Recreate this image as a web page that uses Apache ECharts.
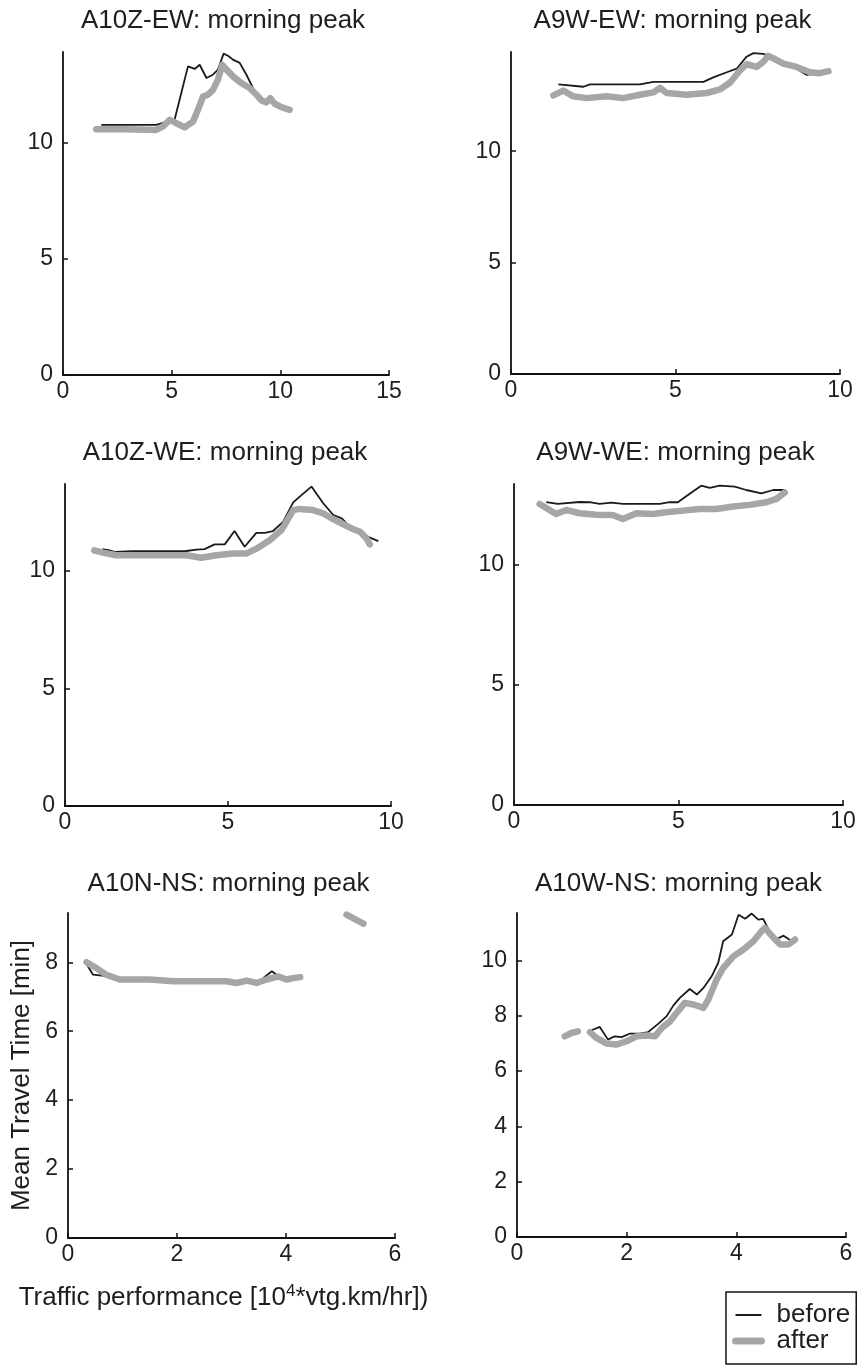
<!DOCTYPE html>
<html>
<head>
<meta charset="utf-8">
<script src="https://cdn.jsdelivr.net/npm/echarts@6/dist/echarts.min.js"></script>
<style>
html,body{margin:0;padding:0;background:#fff;}
#chart{width:858px;height:1365px;}
</style>
</head>
<body>
<div id="chart"></div>
<script>
// ---------------- DATA ----------------
const panelTitles = ['A10Z-EW: morning peak','A9W-EW: morning peak','A10Z-WE: morning peak','A9W-WE: morning peak','A10N-NS: morning peak','A10W-NS: morning peak'];
const seriesNames = ['before','after'];
const xMax = [15,10,10,10,6,6];
const xStep = [5,5,5,5,2,2];
const yMax = [13.92,14.45,13.7,13.38,9.43,11.72];
const yStep = [5,5,5,5,2,2];
const yTickValues = [[0,5,10],[0,5,10],[0,5,10],[0,5,10],[0,2,4,6,8],[0,2,4,6,8,10]];
const yAxisTitle = 'Mean Travel Time [min]';
const xAxisTitle = 'Traffic performance [10{sup|4}*vtg.km/hr])';

// A10Z-EW
const p1Before = [[1.76,10.78],[4.29,10.78],[5.14,11.02],[5.75,13.3],[6.06,13.19],[6.29,13.37],[6.6,12.8],[6.9,12.94],[7.13,13.16],[7.39,13.85],[7.59,13.76],[7.82,13.59],[8.13,13.45],[8.44,12.94],[8.74,12.37],[9.05,11.93],[9.2,11.8]];
const p1After = [[1.53,10.59],[2.91,10.59],[4.29,10.56],[4.6,10.71],[4.91,11.0],[5.21,10.85],[5.6,10.68],[5.98,10.92],[6.21,11.43],[6.44,12.0],[6.67,12.08],[6.9,12.29],[7.13,12.73],[7.33,13.37],[7.52,13.16],[7.82,12.87],[8.21,12.58],[8.59,12.37],[8.9,12.08],[9.13,11.83],[9.36,11.75],[9.54,11.93],[9.74,11.69],[10.05,11.54],[10.43,11.43]];
// A9W-EW
const p2Before = [[1.44,13.0],[2.2,12.89],[2.4,13.0],[3.92,13.0],[4.33,13.11],[5.85,13.11],[6.15,13.31],[6.56,13.54],[6.86,13.7],[7.16,14.24],[7.37,14.4],[7.67,14.37],[7.87,14.24],[8.38,13.93],[8.68,13.7],[8.99,13.42],[9.19,13.47],[9.6,13.54]];
const p2After = [[1.29,12.5],[1.59,12.72],[1.89,12.46],[2.3,12.38],[2.91,12.46],[3.41,12.38],[3.92,12.53],[4.33,12.64],[4.53,12.84],[4.73,12.61],[5.34,12.53],[5.95,12.61],[6.35,12.77],[6.66,13.08],[6.96,13.62],[7.16,13.9],[7.47,13.78],[7.67,14.01],[7.82,14.28],[7.97,14.17],[8.28,13.93],[8.68,13.78],[9.09,13.54],[9.39,13.5],[9.65,13.59]];
// A10Z-WE
const p3Before = [[1.15,10.93],[1.36,10.88],[1.52,10.81],[2.08,10.84],[2.9,10.84],[3.72,10.85],[4.03,10.91],[4.28,10.93],[4.59,11.13],[4.9,11.13],[5.2,11.7],[5.51,11.03],[5.87,11.62],[6.13,11.62],[6.38,11.7],[6.69,12.09],[7.0,12.92],[7.2,13.16],[7.56,13.59],[7.92,12.88],[8.23,12.38],[8.49,12.24],[8.74,11.88],[9.0,11.7],[9.3,11.45],[9.61,11.27]];
const p3After = [[0.9,10.88],[1.16,10.78],[1.57,10.67],[2.08,10.67],[2.9,10.67],[3.72,10.67],[4.18,10.56],[4.64,10.67],[5.15,10.74],[5.56,10.74],[5.87,10.95],[6.28,11.31],[6.64,11.74],[7.0,12.59],[7.2,12.64],[7.61,12.59],[7.92,12.45],[8.18,12.24],[8.49,12.02],[8.79,11.81],[9.05,11.67],[9.25,11.38],[9.35,11.13]];
// A9W-WE
const p4Before = [[0.98,12.62],[1.33,12.55],[1.99,12.63],[2.3,12.62],[2.6,12.55],[2.96,12.6],[3.31,12.55],[4.43,12.55],[4.73,12.62],[4.98,12.62],[5.34,12.97],[5.69,13.31],[5.95,13.22],[6.25,13.31],[6.71,13.27],[7.06,13.13],[7.52,12.99],[7.88,13.13],[8.23,13.13]];
const p4After = [[0.78,12.55],[1.03,12.34],[1.28,12.13],[1.59,12.3],[1.99,12.16],[2.5,12.1],[3.0,12.09],[3.31,11.92],[3.72,12.16],[4.22,12.13],[4.63,12.2],[5.14,12.27],[5.64,12.34],[6.15,12.34],[6.66,12.44],[7.16,12.51],[7.67,12.62],[7.98,12.76],[8.23,13.03]];
// A10N-NS
const p5Before = [[0.34,7.95],[0.46,7.64],[0.7,7.6],[0.95,7.5],[1.5,7.5],[2.42,7.45],[3.09,7.4],[3.46,7.42],[3.58,7.54],[3.74,7.74],[3.86,7.6],[4.01,7.5],[4.26,7.57]];
const p5After = [[0.34,8.0],[0.52,7.83],[0.7,7.64],[0.95,7.5],[1.19,7.5],[1.5,7.5],[1.93,7.45],[2.42,7.45],[2.91,7.45],[3.09,7.4],[3.28,7.47],[3.46,7.4],[3.64,7.5],[3.86,7.59],[4.01,7.5],[4.13,7.54],[4.26,7.57],[null,null],[5.11,9.38],[5.42,9.12]];
// A10W-NS
const p6Before = [[1.36,7.48],[1.51,7.6],[1.66,7.14],[1.78,7.26],[1.91,7.23],[2.06,7.36],[2.24,7.36],[2.39,7.41],[2.58,7.72],[2.73,7.99],[2.85,8.37],[2.97,8.65],[3.15,8.97],[3.28,8.77],[3.4,9.01],[3.55,9.43],[3.67,9.92],[3.76,10.7],[3.92,10.94],[4.04,11.66],[4.16,11.51],[4.28,11.7],[4.4,11.48],[4.49,11.51],[4.62,11.0],[4.74,10.78],[4.86,10.9],[4.98,10.74],[5.07,10.76]];
const p6After = [[0.87,7.26],[0.99,7.38],[1.11,7.44],[null,null],[1.33,7.41],[1.45,7.2],[1.63,7.0],[1.81,6.96],[2.0,7.08],[2.18,7.26],[2.36,7.29],[2.52,7.26],[2.64,7.56],[2.79,7.8],[2.91,8.1],[3.06,8.47],[3.22,8.41],[3.4,8.29],[3.49,8.59],[3.64,9.31],[3.76,9.73],[3.95,10.16],[4.13,10.4],[4.31,10.7],[4.46,11.06],[4.52,11.18],[4.68,10.82],[4.8,10.58],[4.95,10.58],[5.07,10.76]];

const beforeData = [p1Before,p2Before,p3Before,p4Before,p5Before,p6Before];
const afterData = [p1After,p2After,p3After,p4After,p5After,p6After];

// ---------------- LAYOUT ----------------
const grids = [
  {left:63, top:52, width:326, height:323},
  {left:511, top:52, width:329, height:322},
  {left:65, top:484, width:326, height:322},
  {left:514, top:484, width:329, height:321},
  {left:68, top:913, width:327, height:325},
  {left:517, top:913, width:329, height:324}
];
const titleTops = [8, 8, 440, 440, 871, 871];

const textColor = '#1e1e1e';
const fontFam = '"Liberation Sans", Arial, sans-serif';
const hiddenSymbol = {color: 'rgba(0,0,0,0)', opacity: 0, borderWidth: 0};

const option = {
  animation: false,
  backgroundColor: '#ffffff',
  textStyle: {fontFamily: fontFam},
  title: panelTitles.map((t,i)=>({
    text: t, left: grids[i].left + grids[i].width/2 - 3, top: titleTops[i], textAlign: 'center', padding: 0,
    textStyle: {fontSize: 26, fontWeight: 'normal', color: textColor, fontFamily: fontFam}
  })),
  grid: grids.map(g=>Object.assign({outerBoundsMode:'none', containLabel:false}, g)),
  legend: {
    orient: 'vertical', left: 726, top: 1292, padding: [10, 6, 10, 6], itemGap: 0,
    itemWidth: 26, itemHeight: 16,
    borderColor: '#111', borderWidth: 1.5, borderRadius: 0,
    textStyle: {fontSize: 26, color: textColor, fontFamily: fontFam, padding: [0,0,0,10]},
    data: [
      {name: seriesNames[0], lineStyle: {width: 2, color: '#1a1a1a'}, itemStyle: hiddenSymbol},
      {name: seriesNames[1], lineStyle: {width: 7, color: '#a6a6a6'}, itemStyle: hiddenSymbol}
    ]
  },
  xAxis: grids.map((g,i)=>({
    type: 'value', gridIndex: i, min: 0, max: xMax[i], interval: xStep[i],
    axisLine: {show: true, onZero: false, lineStyle: {color: '#111', width: 1.8}},
    axisTick: {show: true, inside: true, length: 5, lineStyle: {color: '#111', width: 1.5}},
    axisLabel: {fontSize: 23, color: textColor, margin: 5, fontFamily: fontFam},
    splitLine: {show: false},
    name: i === 4 ? xAxisTitle : '',
    nameLocation: 'middle', nameGap: 45,
    nameTextStyle: {fontSize: 26, color: textColor, fontFamily: fontFam, padding: [0, 16, 0, 0],
      rich: {sup: {fontSize: 17, color: textColor, verticalAlign: 'top', padding: [0,0,12,0], fontFamily: fontFam}}}
  })),
  yAxis: grids.map((g,i)=>({
    type: 'value', gridIndex: i, min: 0, max: yMax[i], interval: yStep[i],
    axisLine: {show: true, onZero: false, lineStyle: {color: '#111', width: 1.8}},
    axisTick: {show: true, inside: true, length: 5, lineStyle: {color: '#111', width: 1.5}, customValues: yTickValues[i]},
    axisLabel: {fontSize: 23, color: textColor, margin: 10, fontFamily: fontFam, customValues: yTickValues[i]},
    splitLine: {show: false},
    name: i === 4 ? yAxisTitle : '',
    nameLocation: 'middle', nameGap: 33,
    nameTextStyle: {fontSize: 26, color: textColor, fontFamily: fontFam}
  })),
  series: []
};

for (let i = 0; i < 6; i++) {
  option.series.push({
    name: seriesNames[0], type: 'line', xAxisIndex: i, yAxisIndex: i,
    data: beforeData[i], symbol: 'none', smooth: false, connectNulls: false, z: 2,
    lineStyle: {color: '#1a1a1a', width: 1.8}, itemStyle: {color: '#1a1a1a'}
  });
  option.series.push({
    name: seriesNames[1], type: 'line', xAxisIndex: i, yAxisIndex: i,
    data: afterData[i], symbol: 'none', smooth: false, connectNulls: false, z: 3,
    lineStyle: {color: '#a6a6a6', width: 6.5, join: 'round', cap: 'round'}, itemStyle: {color: '#a6a6a6'}
  });
}

const chart = echarts.init(document.getElementById('chart'), null, {renderer: 'canvas'});
chart.setOption(option);
</script>
</body>
</html>
